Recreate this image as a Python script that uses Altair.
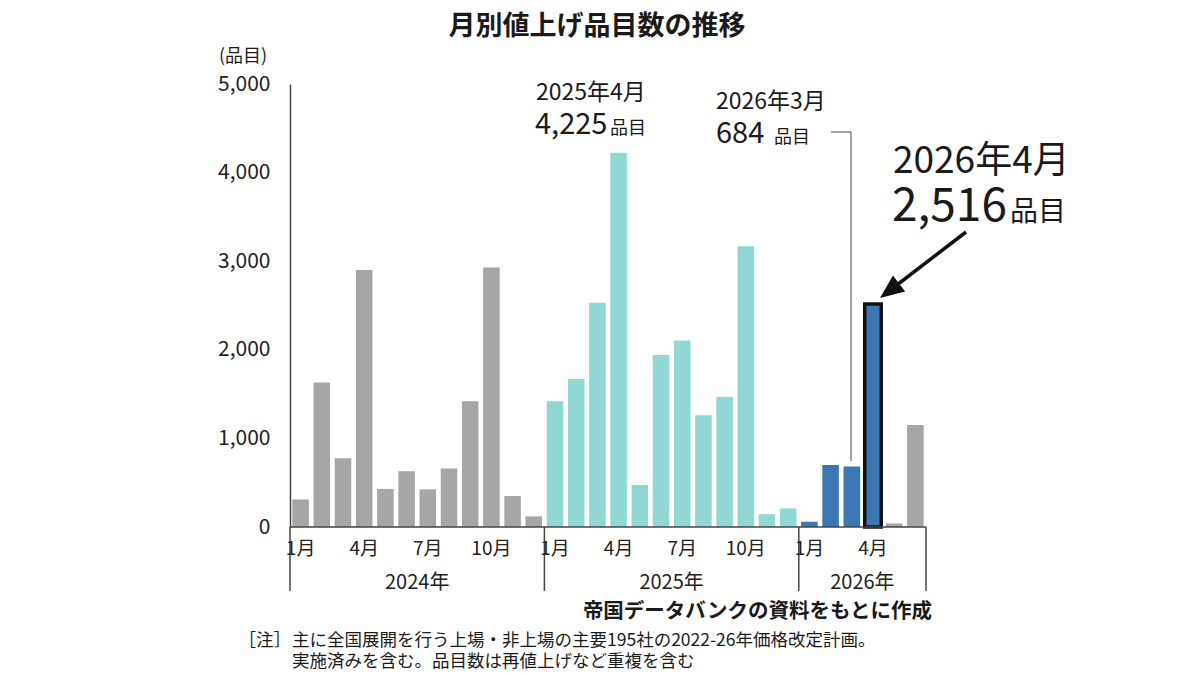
import altair as alt
import pandas as pd

FONT = "Noto Sans CJK JP"

# ---- data ----
years = [2024] * 12 + [2025] * 12 + [2026] * 6
months = list(range(1, 13)) + list(range(1, 13)) + list(range(1, 7))
values_2024 = [310, 1630, 775, 2900, 430, 630, 425, 660, 1420, 2930, 350, 120]
values_2025 = [1420, 1670, 2530, 4225, 475, 1940, 2105, 1260, 1470, 3170, 145, 210]
values_2026 = [60, 700, 684, 2516, 40, 1150]
values = values_2024 + values_2025 + values_2026
groups = ["2024"] * 12 + ["2025"] * 12 + ["2026"] * 4 + ["later"] * 2
tick_months = [1, 4, 7, 10]
year_labels = ["2024年", "2025年", "2026年"]
year_bounds = [0, 12, 24, 30]
y_ticks = [0, 1000, 2000, 3000, 4000, 5000]

df = pd.DataFrame({"year": years, "month": months, "value": values, "group": groups})
df["idx"] = range(len(df))
df["x0"] = df["idx"] + 0.11
df["x1"] = df["idx"] + 0.89
df["xc"] = df["idx"] + 0.5
df["base"] = 0
df["mlabel"] = df["month"].astype(str) + "月"

hl = df[(df.year == 2026) & (df.month == 4)]
mlab = df[df.month.isin(tick_months) & ~((df.year == 2026) & (df.month > 4))]

yr = pd.DataFrame({
    "label": year_labels,
    "start": year_bounds[:-1],
    "end": year_bounds[1:],
})
yr["mid"] = (yr["start"] + yr["end"]) / 2
bounds = pd.DataFrame({"b": year_bounds})
base_df = pd.DataFrame({"a": [year_bounds[0]], "b": [year_bounds[-1]], "y": [0]})

# ---- layout ----
W, H = 636, 443
L, T = 290, 84
R = 1200 - L - W
B = 675 - T - H


def px(x):
    return x - L


def py(y):
    return y - T


xscale = alt.Scale(domain=[year_bounds[0], year_bounds[-1]], nice=False, zero=False)
yscale = alt.Scale(domain=[0, 5000], nice=False)

colors = alt.Scale(domain=["2024", "2025", "2026", "later"],
                   range=["#a6a6a6", "#8fd8d4", "#3b78b3", "#a6a6a6"])

bars = alt.Chart(df).mark_bar().encode(
    x=alt.X("x0:Q", scale=xscale, axis=None),
    x2="x1",
    y=alt.Y("value:Q", scale=yscale,
            axis=alt.Axis(values=y_ticks, format=",.0f", grid=False, ticks=False, tickSize=0,
                          domain=True, domainColor="#444", domainWidth=1.5,
                          labelFontSize=21, labelColor="#222", labelFont=FONT,
                          labelPadding=20, title=None)),
    y2="base:Q",
    color=alt.Color("group:N", scale=colors, legend=None),
)

outline = alt.Chart(hl).mark_bar(fillOpacity=0, stroke="#111", strokeWidth=3.5).encode(
    x=alt.X("x0:Q", scale=xscale),
    x2="x1",
    y=alt.Y("value:Q", scale=yscale),
    y2="base:Q",
)

baseline = alt.Chart(base_df).mark_rule(color="#444", strokeWidth=1.5).encode(
    x=alt.X("a:Q", scale=xscale), x2="b", y=alt.Y("y:Q", scale=yscale)
)

seps = alt.Chart(bounds).mark_rule(color="#444", strokeWidth=1.5).encode(
    x=alt.X("b:Q", scale=xscale), y=alt.value(H), y2=alt.value(H + 64)
)

month_text = alt.Chart(mlab).mark_text(font=FONT, fontSize=19, color="#222",
                                       baseline="middle").encode(
    x=alt.X("xc:Q", scale=xscale), y=alt.value(py(549)), text="mlabel:N"
)

year_text = alt.Chart(yr).mark_text(font=FONT, fontSize=20, color="#222",
                                    baseline="middle").encode(
    x=alt.X("mid:Q", scale=xscale), y=alt.value(py(583)), text="label:N"
)


def txt(s, x, y, size, align="left", baseline="alphabetic", weight="normal", color="#1a1a1a"):
    return alt.Chart(pd.DataFrame({"t": [s]})).mark_text(
        font=FONT, fontSize=size, align=align, baseline=baseline, fontWeight=weight, color=color
    ).encode(x=alt.value(px(x)), y=alt.value(py(y)), text="t:N")


texts = [
    txt("月別値上げ品目数の推移", 597, 27, 27, align="center", baseline="middle", weight="bold"),
    txt("(品目)", 243, 57, 18, align="center", baseline="middle"),
    txt("2025年4月", 536, 100, 23),
    txt("4,225", 535, 134, 29),
    txt("品目", 610, 134, 18),
    txt("2026年3月", 716, 109, 23),
    txt("684", 716, 143, 29),
    txt("品目", 774, 143, 18),
    txt("2026年4月", 893, 173, 37),
    txt("2,516", 892, 221, 46),
    txt("品目", 1010, 221, 28),
    txt("帝国データバンクの資料をもとに作成", 932, 612, 20.5, align="right", baseline="middle", weight="bold"),
    txt("［注］", 291, 641, 17.5, align="right", baseline="middle"),
    txt("主に全国展開を行う上場・非上場の主要195社の2022-26年価格改定計画。", 292, 641, 17.5, baseline="middle"),
    txt("実施済みを含む。品目数は再値上げなど重複を含む", 292, 662, 17.5, baseline="middle"),
]

one = pd.DataFrame({"k": [0]})
leader_h = alt.Chart(one).mark_rule(color="#666", strokeWidth=1.2).encode(
    x=alt.value(px(831)), x2=alt.value(px(851)), y=alt.value(py(132))
)
leader_v = alt.Chart(one).mark_rule(color="#666", strokeWidth=1.2).encode(
    x=alt.value(px(851)), y=alt.value(py(132)), y2=alt.value(py(461))
)
arrow_line = alt.Chart(one).mark_rule(color="#111", strokeWidth=3.5).encode(
    x=alt.value(px(966)), y=alt.value(py(232)), x2=alt.value(px(893)), y2=alt.value(py(288))
)
arrow_head = alt.Chart(one).mark_point(
    shape="M0,0L0.42,1L-0.42,1Z", filled=True, fill="#111", stroke=None, opacity=1,
    size=2300, angle=232.6
).encode(x=alt.value(px(880)), y=alt.value(py(298)))

chart = alt.layer(
    bars, outline, baseline, seps, month_text, year_text,
    leader_h, leader_v, arrow_line, arrow_head, *texts
).properties(
    width=W, height=H,
    autosize=alt.AutoSizeParams(type="none"),
    padding={"left": L, "top": T, "right": R, "bottom": B},
    background="white",
).configure_view(stroke=None)

chart.save("out.html", embed_options={"renderer": "svg", "actions": False})
